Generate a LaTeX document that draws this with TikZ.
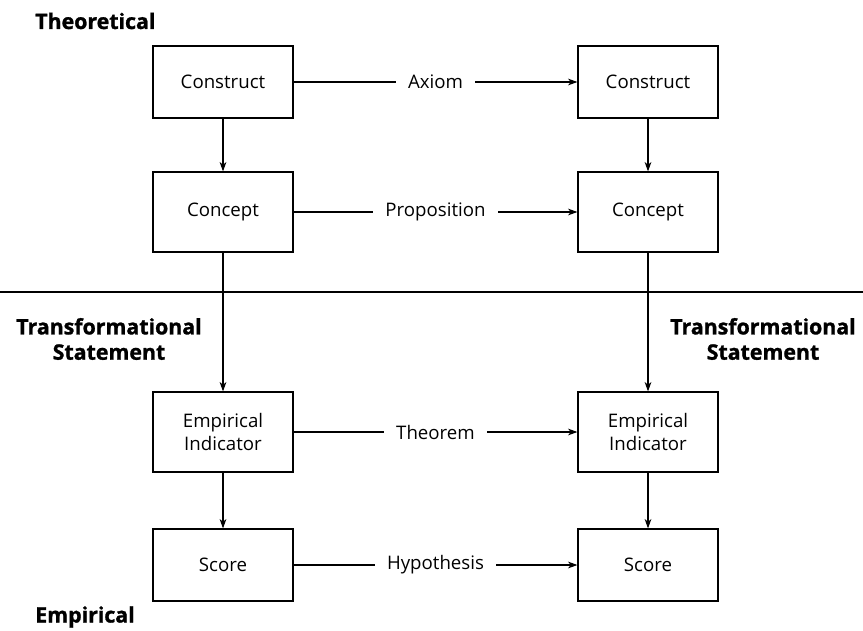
\documentclass[tikz,border=0pt]{standalone}
\usepackage{fontspec}
\setmainfont{Open Sans}
\newfontfamily\heavyfont[BoldFeatures={FakeBold=1.2}]{Open Sans}
\usetikzlibrary{arrows.meta}
\begin{document}
\begin{tikzpicture}[x=0.75pt,y=-0.75pt,
  box/.style={draw,line width=0.9pt,minimum width=105pt,minimum height=54pt,inner sep=0pt,align=center,font=\fontsize{14}{17}\selectfont},
  lvl/.style={font=\heavyfont\fontsize{16}{19}\selectfont\bfseries,align=center,inner sep=0pt},
  arr/.style={line width=0.8pt,-{Stealth[length=7pt,width=5pt,inset=2pt]}},
  rel/.style={fill=white,inner xsep=9pt,font=\fontsize{14}{17}\selectfont}]
\useasboundingbox (0,0) rectangle (863,631);
% level labels
\node[lvl,anchor=west] (theo) at (35,21) {Theoretical};
\node[lvl,anchor=west] (emp) at (35,617) {Empirical};
\node[lvl] (tsl) at (109,339) {Transformational\\Statement};
\node[lvl] (tsr) at (763,339) {Transformational\\Statement};
% separator
\coordinate (sepL) at (0,292);
\coordinate (sepR) at (863,292);
\draw[line width=0.8pt] (sepL) -- (sepR);
% boxes
\node[box,minimum height=54pt] (c1) at (223,82) {Construct};
\node[box,minimum height=54pt] (c2) at (648,82) {Construct};
\node[box,minimum height=60pt] (p1) at (223,212) {Concept};
\node[box,minimum height=60pt] (p2) at (648,212) {Concept};
\node[box,minimum height=60pt] (e1) at (223,432) {Empirical\\Indicator};
\node[box,minimum height=60pt] (e2) at (648,432) {Empirical\\Indicator};
\node[box,minimum height=54pt] (s1) at (223,565) {Score};
\node[box,minimum height=54pt] (s2) at (648,565) {Score};
% vertical links
\foreach \a/\b in {c1/p1,p1/e1,e1/s1,c2/p2,p2/e2,e2/s2}
  \draw[arr] (\a) -- (\b);
% horizontal relations
\draw[arr] (c1) -- node[rel] {Axiom} (c2);
\draw[arr] (p1) -- node[rel] {Proposition} (p2);
\draw[arr] (e1) -- node[rel] {Theorem} (e2);
\draw[arr] (s1) -- node[rel] {Hypothesis} (s2);
\end{tikzpicture}
\end{document}
